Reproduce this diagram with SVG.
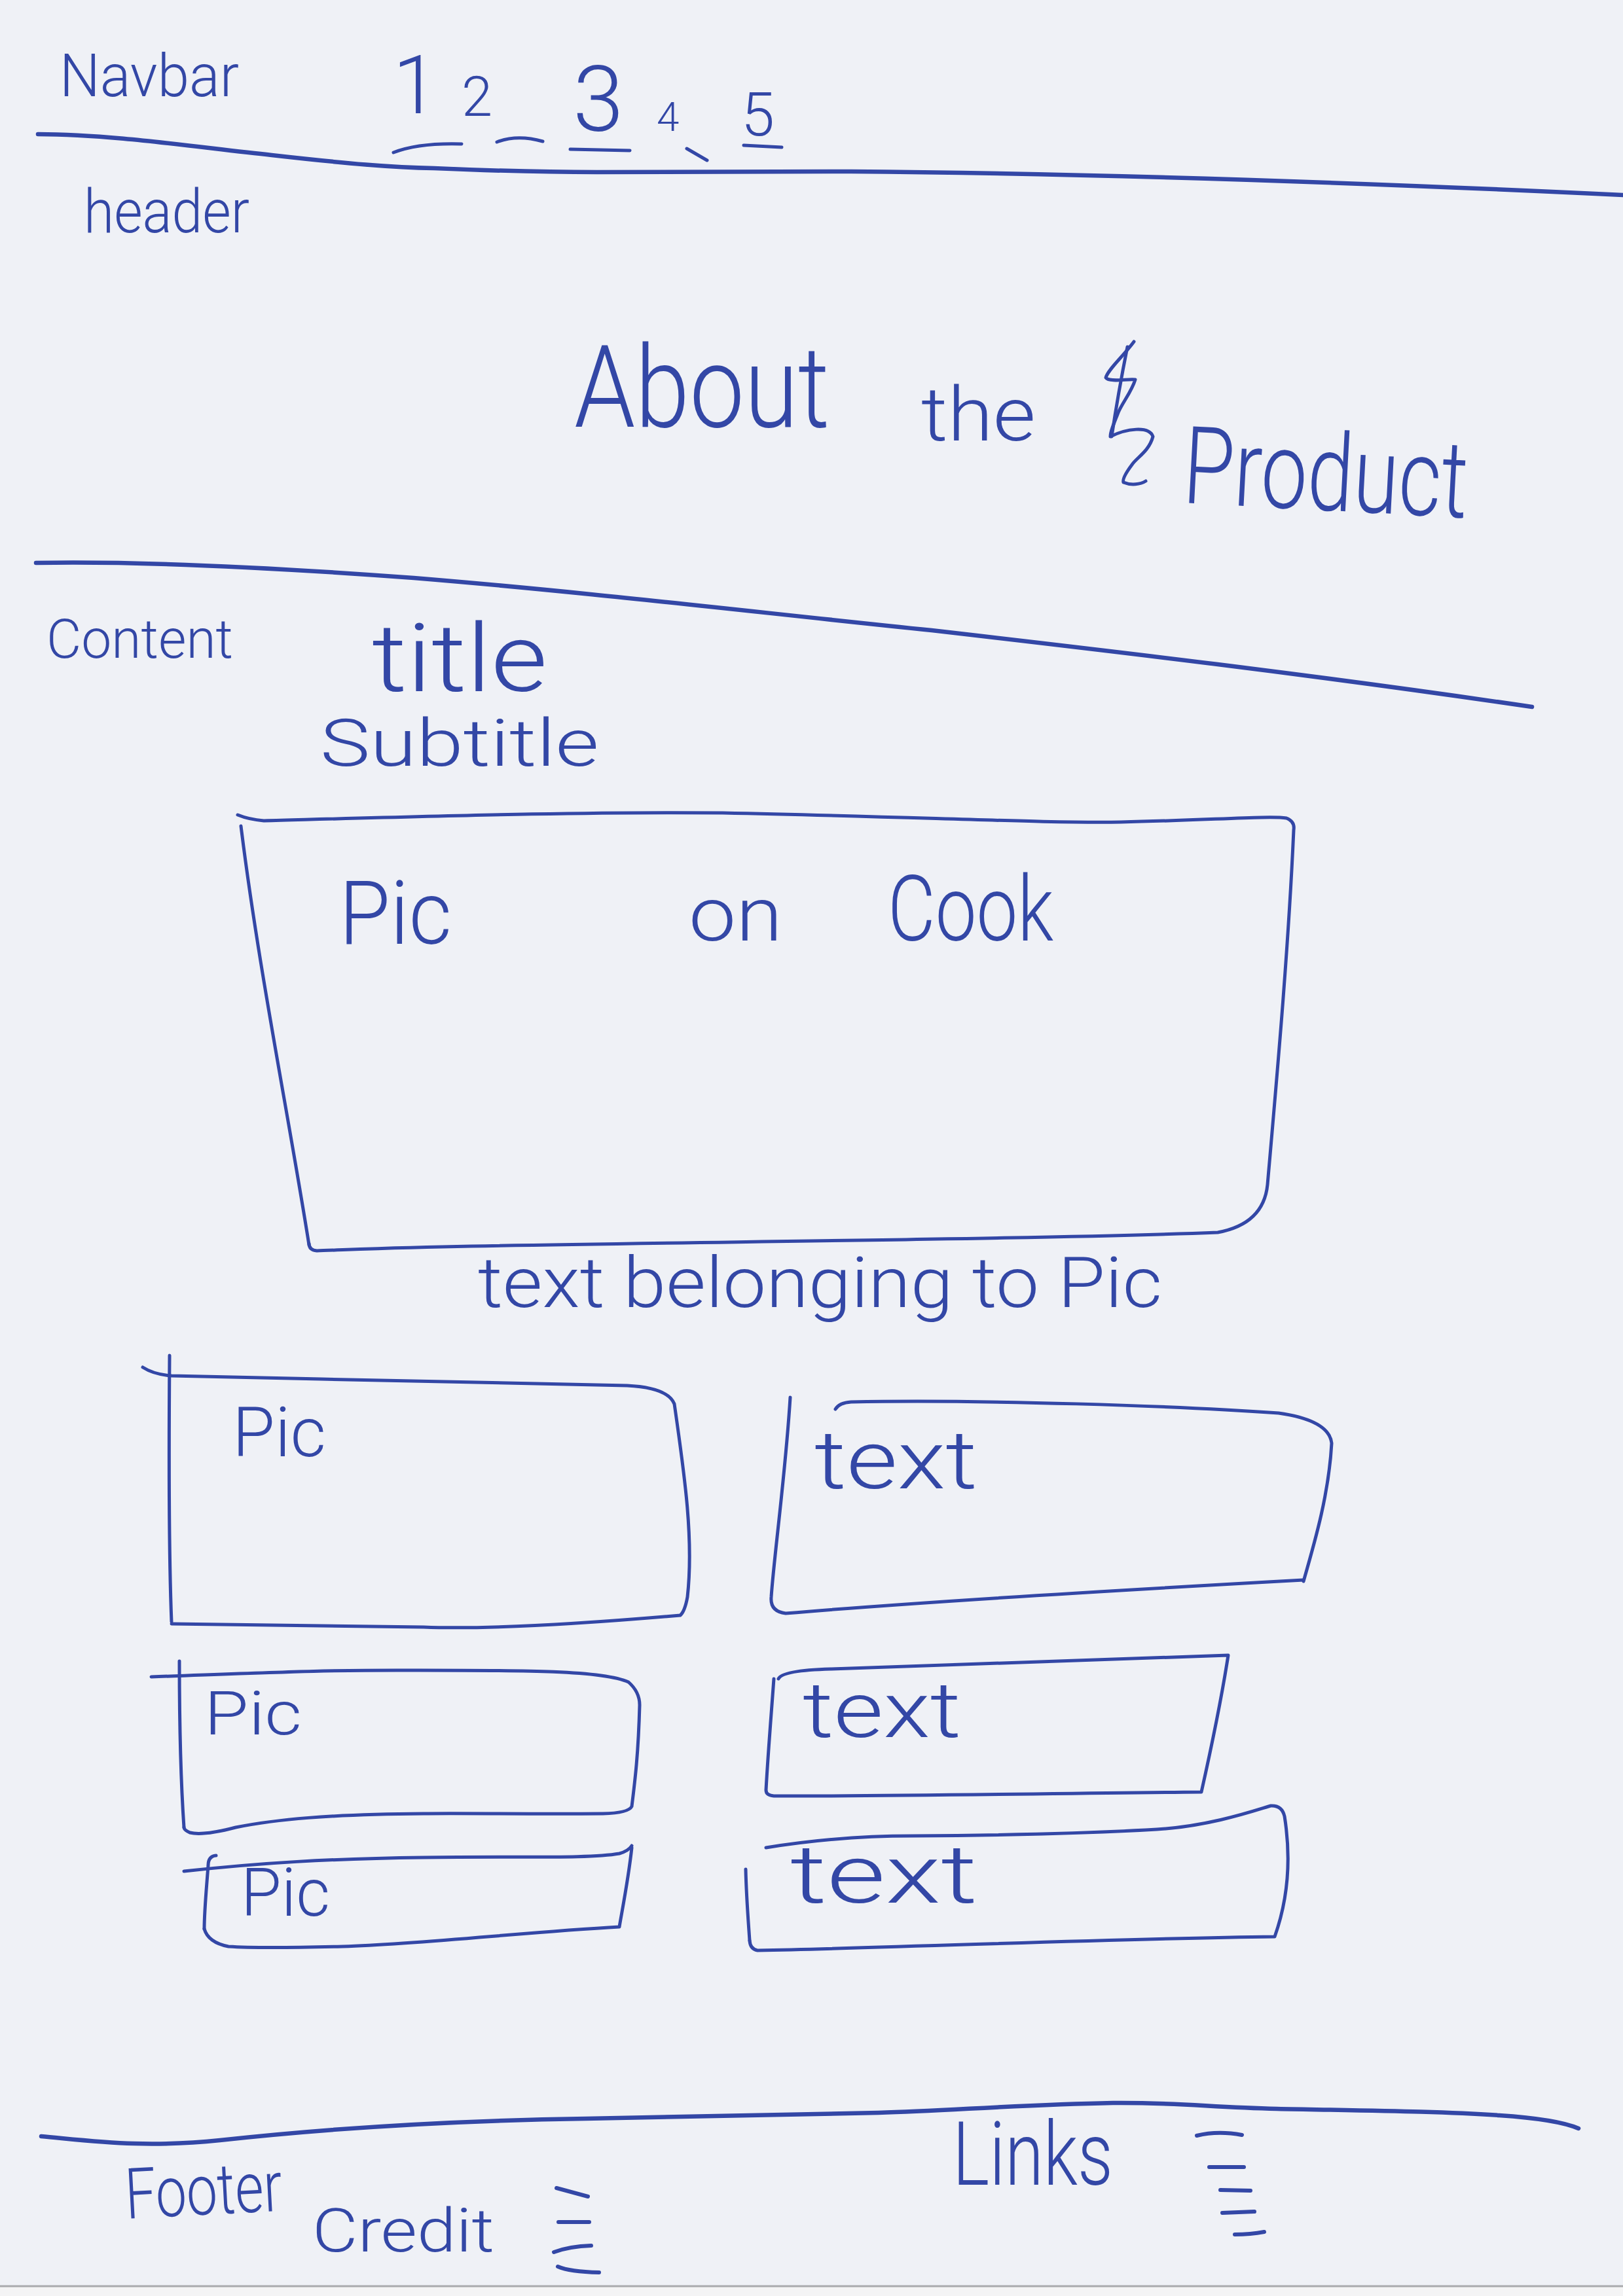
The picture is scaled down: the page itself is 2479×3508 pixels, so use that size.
<svg xmlns="http://www.w3.org/2000/svg" width="2479" height="3508" viewBox="0 0 2479 3508">
  <style>
    .ink { fill: none; stroke: #3347a6; stroke-width: 5; stroke-linecap: round; stroke-linejoin: round; }
    .rule { fill: none; stroke: #3347a6; stroke-width: 6.5; stroke-linecap: round; }
    .dash { fill: none; stroke: #3347a6; stroke-width: 6; stroke-linecap: round; }
    .hand { font-family: Roboto, "Liberation Sans", "DejaVu Sans", sans-serif; font-weight: 300; fill: #3347a6; }
  </style>

  <!-- sheet of paper -->
  <rect x="0" y="0" width="2479" height="3508" fill="#eff1f6"/>
  <rect x="0" y="3493" width="2479" height="15" fill="#f4f4f5"/>
  <line x1="0" y1="3493" x2="2479" y2="3493" stroke="#a9aaad" stroke-width="3"/>

  <!-- navbar -->
  <g id="navbar">
    <text class="hand" x="91" y="147" font-size="90" textLength="274" lengthAdjust="spacingAndGlyphs">Navbar</text>
    <text class="hand" x="600" y="173" font-size="125">1</text>
    <text class="hand" x="705" y="177" font-size="85">2</text>
    <text class="hand" x="875" y="200" font-size="140">3</text>
    <text class="hand" x="1003" y="200" font-size="62">4</text>
    <text class="hand" x="1132" y="207" font-size="92">5</text>
    <path class="ink" d="M601,233 Q640,218 705,220"/>
    <path class="ink" d="M759,217 Q790,205 829,216"/>
    <path class="ink" d="M871,228 L962,230"/>
    <path class="ink" d="M1049,227 L1080,245"/>
    <path class="ink" d="M1136,222 L1194,225"/>
  </g>

  <!-- section dividers -->
  <g id="dividers">
    <path class="rule" d="M58,205 C170,205 300,225 415,237 C530,250 600,256 663,257 C780,262 850,263 912,263 C1100,262 1200,262 1300,262 C1700,265 2100,280 2479,298"/>
    <path class="rule" d="M55,860 C220,857 430,868 632,883 C900,905 1150,935 1423,963 C1700,995 2000,1030 2340,1080"/>
    <path class="rule" d="M63,3264 C150,3272 220,3282 336,3270 C500,3252 700,3240 895,3237 C1100,3234 1250,3230 1342,3228 C1450,3225 1550,3216 1700,3213 C1800,3212 1850,3220 1950,3222 C2100,3225 2200,3226 2290,3232 C2350,3236 2390,3243 2411,3252"/>
  </g>

  <!-- header -->
  <g id="header">
    <text class="hand" x="128" y="355" font-size="92" textLength="253" lengthAdjust="spacingAndGlyphs">header</text>
    <text class="hand" x="877" y="652" font-size="175" textLength="390" lengthAdjust="spacingAndGlyphs">About</text>
    <text class="hand" x="1407" y="673" font-size="115" textLength="175" lengthAdjust="spacingAndGlyphs">the</text>
    <path class="ink" d="M1732,522 C1715,545 1692,565 1689,577 C1695,585 1725,578 1734,580 C1728,600 1712,618 1707,633 C1700,650 1696,660 1696,667 C1720,655 1755,650 1761,667 C1755,690 1735,700 1729,710 C1720,722 1714,732 1716,737 C1728,742 1742,740 1750,735"/>
    <path class="ink" d="M1722,530 C1712,580 1705,620 1698,667"/>
    <text class="hand" x="1805" y="768" font-size="165" textLength="435" lengthAdjust="spacingAndGlyphs" transform="rotate(3 1805 768)">Product</text>
  </g>

  <!-- content headings -->
  <g id="content-heading">
    <text class="hand" x="71" y="1005" font-size="84" textLength="285" lengthAdjust="spacingAndGlyphs">Content</text>
    <text class="hand" x="568" y="1056" font-size="145" textLength="268" lengthAdjust="spacingAndGlyphs">title</text>
    <text class="hand" x="489" y="1170" font-size="100" textLength="426" lengthAdjust="spacingAndGlyphs">Subtitle</text>
  </g>

  <!-- hero picture -->
  <g id="hero-pic">
    <path class="ink" d="M363,1245 Q380,1252 403,1254 C700,1246 900,1240 1104,1242 C1400,1248 1600,1258 1712,1256 C1850,1253 1940,1246 1965,1250 Q1978,1255 1976,1268 C1968,1450 1950,1650 1936,1810 Q1930,1870 1860,1883 C1600,1893 1100,1897 720,1904 C600,1906 520,1910 484,1911 Q472,1910 472,1900"/>
    <path class="ink" d="M368,1262 C395,1480 440,1700 472,1902"/>
    <text class="hand" x="518" y="1442" font-size="135" textLength="172" lengthAdjust="spacingAndGlyphs">Pic</text>
    <text class="hand" x="1052" y="1437" font-size="115" textLength="143" lengthAdjust="spacingAndGlyphs">on</text>
    <text class="hand" x="1356" y="1437" font-size="140" textLength="253" lengthAdjust="spacingAndGlyphs">Cook</text>
  </g>
  <g id="hero-caption">
    <text class="hand" x="730" y="1997" font-size="108" textLength="1045" lengthAdjust="spacingAndGlyphs">text belonging to Pic</text>
  </g>

  <!-- row 1 -->
  <g id="pic-1">
    <path class="ink" d="M259,2071 C258,2200 258,2380 262,2478"/>
    <path class="ink" d="M218,2089 Q235,2100 262,2102 C500,2108 800,2112 958,2117 Q1020,2120 1030,2145 C1045,2250 1060,2350 1050,2440 Q1046,2462 1039,2468 C900,2480 750,2490 647,2486 C500,2484 350,2482 262,2481"/>
    <text class="hand" x="355" y="2225" font-size="105" textLength="143" lengthAdjust="spacingAndGlyphs">Pic</text>
  </g>
  <g id="text-1">
    <path class="ink" d="M1207,2135 C1200,2250 1182,2380 1178,2440 Q1176,2462 1200,2465 C1400,2448 1700,2430 1991,2414"/>
    <path class="ink" d="M1276,2153 Q1282,2143 1300,2142 C1500,2138 1800,2148 1953,2159 Q2030,2170 2034,2205 C2030,2280 2010,2350 1991,2416"/>
    <text class="hand" x="1244" y="2274" font-size="125" textLength="249" lengthAdjust="spacingAndGlyphs">text</text>
  </g>

  <!-- row 2 -->
  <g id="pic-2">
    <path class="ink" d="M274,2538 C274,2620 276,2720 281,2792"/>
    <path class="ink" d="M231,2562 C400,2556 500,2551 640,2552 C800,2552 920,2552 960,2570 Q977,2585 977,2605 C975,2680 970,2720 965,2760 Q960,2770 921,2771 C800,2772 700,2770 647,2771 C500,2772 420,2780 360,2792 Q310,2805 290,2800 Q281,2796 281,2792"/>
    <text class="hand" x="312" y="2650" font-size="92" textLength="149" lengthAdjust="spacingAndGlyphs">Pic</text>
  </g>
  <g id="text-2">
    <path class="ink" d="M1189,2565 Q1195,2552 1269,2550 C1500,2543 1700,2535 1876,2529 C1865,2600 1848,2680 1835,2738 C1600,2740 1350,2745 1182,2744 Q1170,2743 1170,2735 C1173,2680 1178,2620 1182,2565"/>
    <text class="hand" x="1226" y="2654" font-size="118" textLength="242" lengthAdjust="spacingAndGlyphs">text</text>
  </g>

  <!-- row 3 -->
  <g id="pic-3">
    <path class="ink" d="M281,2859 C400,2846 500,2840 647,2838 C800,2836 900,2840 946,2832 Q960,2828 965,2820"/>
    <path class="ink" d="M965,2823 C960,2870 950,2920 946,2944 C800,2952 650,2970 523,2974 C440,2976 380,2976 349,2974 Q318,2968 312,2947"/>
    <path class="ink" d="M330,2835 Q318,2836 318,2850 C315,2890 312,2920 312,2947"/>
    <text class="hand" x="368" y="2927" font-size="102" textLength="136" lengthAdjust="spacingAndGlyphs">Pic</text>
  </g>
  <g id="text-3">
    <path class="ink" d="M1170,2823 C1250,2810 1320,2805 1394,2805 C1550,2804 1680,2800 1767,2795 C1850,2790 1920,2765 1941,2759 Q1958,2758 1962,2775 C1972,2838 1968,2900 1947,2959 C1700,2962 1400,2975 1157,2980 Q1146,2978 1145,2965"/>
    <path class="ink" d="M1139,2856 C1140,2900 1143,2935 1145,2965"/>
    <text class="hand" x="1207" y="2907" font-size="125" textLength="286" lengthAdjust="spacingAndGlyphs">text</text>
  </g>

  <!-- footer -->
  <g id="footer">
    <text class="hand" x="193" y="3390" font-size="108" textLength="240" lengthAdjust="spacingAndGlyphs" transform="rotate(-3 193 3390)">Footer</text>
  </g>
  <g id="credit">
    <text class="hand" x="477" y="3440" font-size="92" textLength="278" lengthAdjust="spacingAndGlyphs">Credit</text>
    <path class="dash" d="M850,3343 L898,3356"/>
    <path class="dash" d="M853,3395 L900,3395"/>
    <path class="dash" d="M846,3441 Q870,3432 903,3431"/>
    <path class="dash" d="M852,3463 Q870,3471 915,3472"/>
  </g>
  <g id="links">
    <text class="hand" x="1455" y="3338" font-size="135" textLength="245" lengthAdjust="spacingAndGlyphs">Links</text>
    <path class="dash" d="M1828,3263 Q1860,3255 1897,3262"/>
    <path class="dash" d="M1847,3311 L1900,3311"/>
    <path class="dash" d="M1864,3346 L1910,3347"/>
    <path class="dash" d="M1867,3381 L1916,3379"/>
    <path class="dash" d="M1886,3414 Q1910,3414 1931,3410"/>
  </g>
</svg>
